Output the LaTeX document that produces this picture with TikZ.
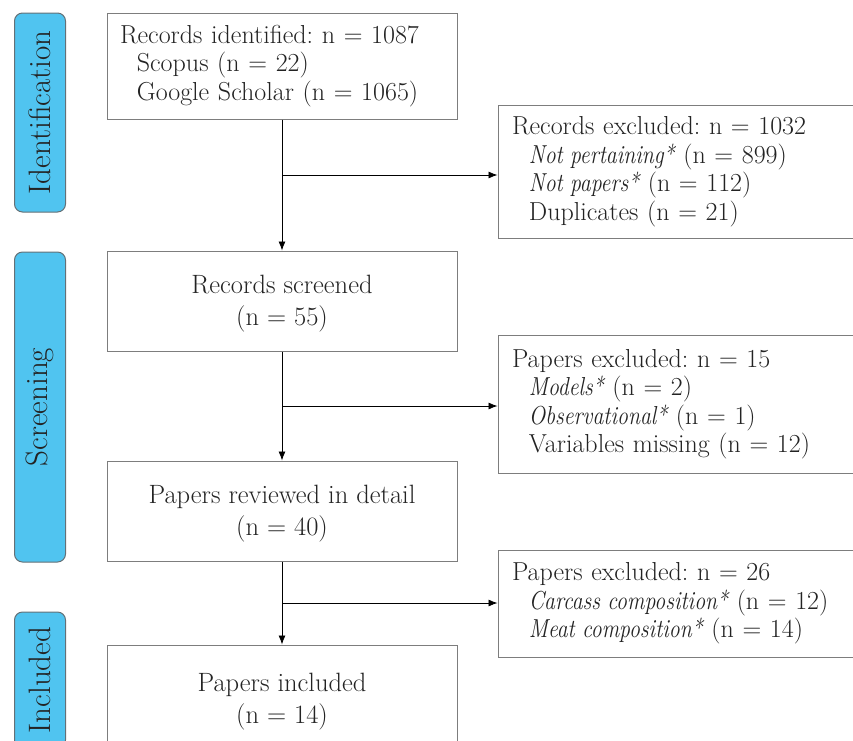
\documentclass[tikz,border=0pt]{standalone}
\usetikzlibrary{arrows.meta}
\definecolor{lblue}{RGB}{80,196,240}
\definecolor{bgray}{RGB}{125,125,125}
\definecolor{lborder}{RGB}{100,112,118}
\definecolor{txt}{RGB}{35,35,35}
\newcommand\itx[1]{\scalebox{0.84}[1]{\itshape #1}}
\begin{document}
\frenchspacing
\begin{tikzpicture}[x=1pt,y=-1pt,
  box/.style={draw=bgray, line width=1pt, fill=white, inner xsep=13pt, inner ysep=0pt,
    font=\fontsize{26}{28.5}\selectfont, text=txt},
  leftbox/.style={box, align=left, text width=#1},
  midbox/.style={box, align=center, minimum width=350pt, minimum height=100pt,
    font=\fontsize{26.5}{32}\selectfont},
  phase/.style={draw=lborder, line width=1pt, fill=lblue, rounded corners=8pt, rotate=90,
    minimum height=51pt, inner sep=0pt, font=\fontsize{31}{32}\selectfont, text=txt},
  arr/.style={-{Latex[length=9pt,width=7pt]}, line width=0.8pt, black},
]
\useasboundingbox (0,0) rectangle (853,740);
\clip (0,0) rectangle (853,740);

% phase labels
\node[phase, minimum width=199pt] (pid) at (40,112.5) {Identification};
\node[phase, minimum width=310pt] (psc) at (40,407) {Screening};
\node[phase, minimum width=136pt] (pin) at (40,680) {Included};

% main boxes
\node[leftbox=324pt, minimum width=350pt, minimum height=106pt] (ident) at (282,66)
  {Records identified: n = 1087\\\hspace*{0.65em}Scopus (n = 22)\\\hspace*{0.65em}Google Scholar (n = 1065)};
\node[midbox] (screen) at (282,301) {\rule{0pt}{24pt}Records screened\\(n = 55)};
\node[midbox] (review) at (282,511) {\rule{0pt}{24pt}Papers reviewed in detail\\(n = 40)};
\node[midbox, minimum height=108pt] (incl) at (282,699) {\rule{0pt}{24pt}Papers included\\(n = 14)};

% exclusion boxes
\node[leftbox=374pt, inner xsep=14pt, minimum width=402pt, minimum height=133pt] (ex1) at (699,171.5)
  {Records excluded: n = 1032\\\hspace*{0.65em}\itx{Not pertaining*} (n = 899)\\\hspace*{0.65em}\itx{Not papers*} (n = 112)\\\hspace*{0.65em}Duplicates (n = 21)};
\node[leftbox=374pt, inner xsep=14pt, minimum width=402pt, minimum height=138pt] (ex2) at (699,404)
  {Papers excluded: n = 15\\\hspace*{0.65em}\itx{Models*} (n = 2)\\\hspace*{0.65em}\itx{Observational*} (n = 1)\\\hspace*{0.65em}Variables missing (n = 12)};
\node[leftbox=374pt, inner xsep=14pt, minimum width=402pt, minimum height=107pt] (ex3) at (699,603.5)
  {Papers excluded: n = 26\\\hspace*{0.65em}\itx{Carcass composition*} (n = 12)\\\hspace*{0.65em}\itx{Meat composition*} (n = 14)};

% branch points
\coordinate (b1) at (282,175);
\coordinate (b2) at (282,406);
\coordinate (b3) at (282,603);

\draw[arr] (ident.south) -- (screen.north);
\draw[arr] (screen.south) -- (review.north);
\draw[arr] (review.south) -- (incl.north);
\draw[arr] (b1) -- (b1 -| ex1.west);
\draw[arr] (b2) -- (b2 -| ex2.west);
\draw[arr] (b3) -- (b3 -| ex3.west);
\end{tikzpicture}
\end{document}
